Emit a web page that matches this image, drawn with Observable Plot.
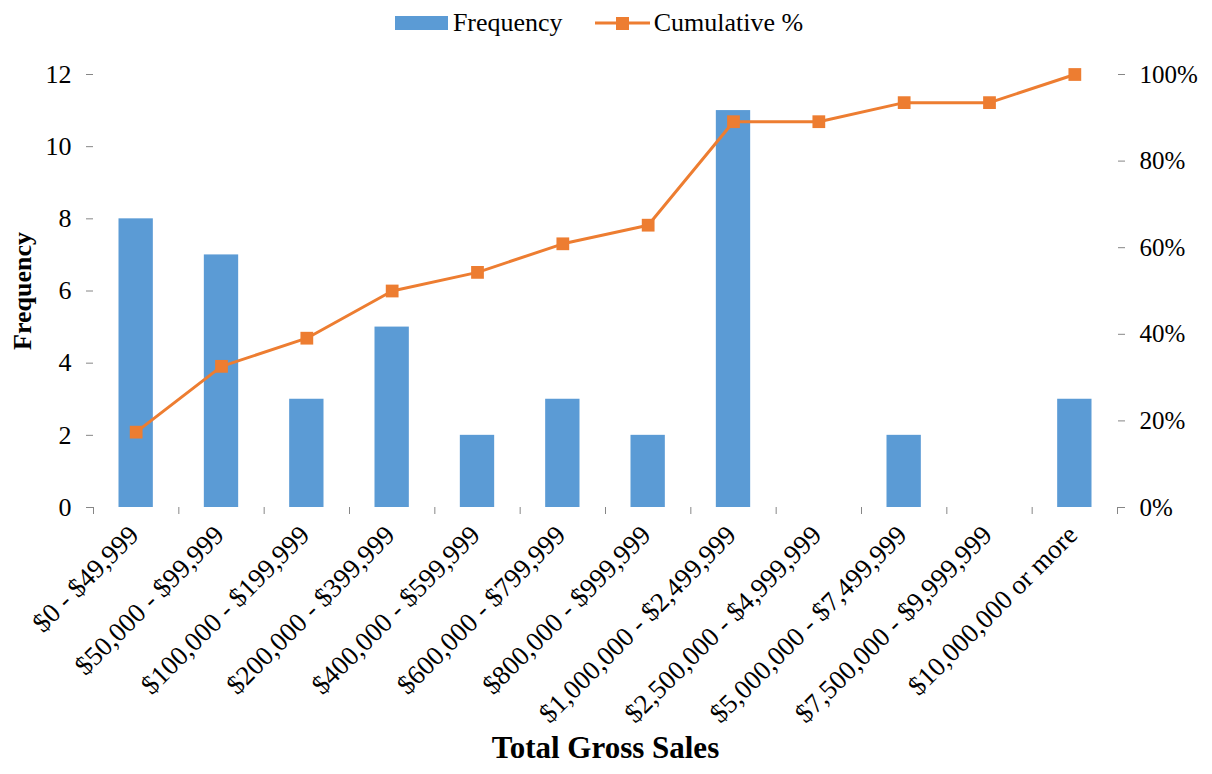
<!DOCTYPE html>
<html>
<head>
<meta charset="utf-8">
<script src="https://cdn.jsdelivr.net/npm/d3@7"></script>
<script src="https://cdn.jsdelivr.net/npm/@observablehq/plot@0.6"></script>
<style>
  html, body { margin: 0; padding: 0; background: #fff; }
  body { width: 1212px; height: 774px; overflow: hidden; font-family: "Liberation Serif", "Times New Roman", serif; }
  #legend { height: 45px; display: flex; justify-content: center; align-items: center; font-size: 26px; color: #000; box-sizing: border-box; padding-right: 14px; }
  #legend .item { display: flex; align-items: center; }
  #legend .bar { width: 53px; height: 14px; background: #5B9BD5; margin-right: 5px; }
  #legend svg { margin-right: 4px; }
  #chart { position: relative; width: 1212px; height: 729px; }
  #chart svg { position: absolute; left: 0; top: 0; }
  #chart svg, #chart svg text { font-family: "Liberation Serif", "Times New Roman", serif !important; }
</style>
</head>
<body>
<div id="legend">
  <div class="item"><div class="bar"></div><span>Frequency</span></div>
  <div class="item" style="margin-left:32px"><svg width="55" height="20"><line x1="0" y1="10" x2="55" y2="10" stroke="#ED7D31" stroke-width="3"/><rect x="21" y="4" width="13" height="13" fill="#ED7D31"/></svg><span>Cumulative %</span></div>
</div>
<div id="chart"></div>
<script>
const categories = [
  "$0 - $49,999", "$50,000 - $99,999", "$100,000 - $199,999", "$200,000 - $399,999",
  "$400,000 - $599,999", "$600,000 - $799,999", "$800,000 - $999,999", "$1,000,000 - $2,499,999",
  "$2,500,000 - $4,999,999", "$5,000,000 - $7,499,999", "$7,500,000 - $9,999,999", "$10,000,000 or more"
];
const frequency = [8, 7, 3, 5, 2, 3, 2, 11, 0, 2, 0, 3];
const cumulativePct = [17.4, 32.6, 39.1, 50.0, 54.3, 60.9, 65.2, 89.1, 89.1, 93.5, 93.5, 100];
const leftTicks = [0, 2, 4, 6, 8, 10, 12];
const rightTicks = [0, 20, 40, 60, 80, 100];

const data = categories.map((c, i) => ({i, category: c, freq: frequency[i], cum: cumulativePct[i]}));

const W = 1212, H = 729;
const margins = {marginTop: 29, marginBottom: 267, marginLeft: 93, marginRight: 95};
const font = "Liberation Serif, Times New Roman, serif";
const axisGrey = "#868686";

const base = Plot.plot({
  width: W, height: H, ...margins,
  style: {fontFamily: font, fontSize: "26px", color: "#000", background: "transparent"},
  x: {domain: [0, categories.length]},
  y: {domain: [0, 12]},
  marks: [
    Plot.rectY(data, {x1: "i", x2: d => d.i + 1, y: "freq", fill: "#5B9BD5", insetLeft: 25.5, insetRight: 25.5}),
    Plot.axisY({ticks: leftTicks, tickSize: 7, tickPadding: 15, stroke: axisGrey, fill: "#000", line: true, label: null}),
    Plot.axisX({ticks: d3.range(0, categories.length + 1), tickFormat: () => "", tickSize: 7, stroke: axisGrey, line: true, label: null}),
    Plot.axisX({ticks: d3.range(0.5, categories.length, 1), tickFormat: d => categories[Math.floor(d)], tickSize: 0, tickPadding: 23, dx: -2, tickRotate: -45, fill: "#000", fontSize: 27, label: null}),
    Plot.text(["Frequency"], {frameAnchor: "left", textAnchor: "middle", rotate: -90, dx: -71, fontWeight: "bold", fontSize: 26, fill: "#000"}),
    Plot.text(["Total Gross Sales"], {frameAnchor: "bottom", dy: 250, fontWeight: "bold", fontSize: 31, fill: "#000"})
  ]
});

const overlay = Plot.plot({
  width: W, height: H, ...margins,
  style: {fontFamily: font, fontSize: "25px", color: "#000", background: "transparent"},
  x: {domain: [0, categories.length], axis: null},
  y: {domain: [0, 100]},
  marks: [
    Plot.axisY({anchor: "right", ticks: rightTicks, tickFormat: d => d + "%", tickSize: 7, tickPadding: 15, stroke: axisGrey, fill: "#000", line: true, label: null}),
    Plot.line(data, {x: d => d.i + 0.5, y: "cum", stroke: "#ED7D31", strokeWidth: 3}),
    Plot.dot(data, {x: d => d.i + 0.5, y: "cum", symbol: "square", fill: "#ED7D31", r: 7.2})
  ]
});

const chart = document.getElementById("chart");
chart.appendChild(base);
chart.appendChild(overlay);
</script>
</body>
</html>
